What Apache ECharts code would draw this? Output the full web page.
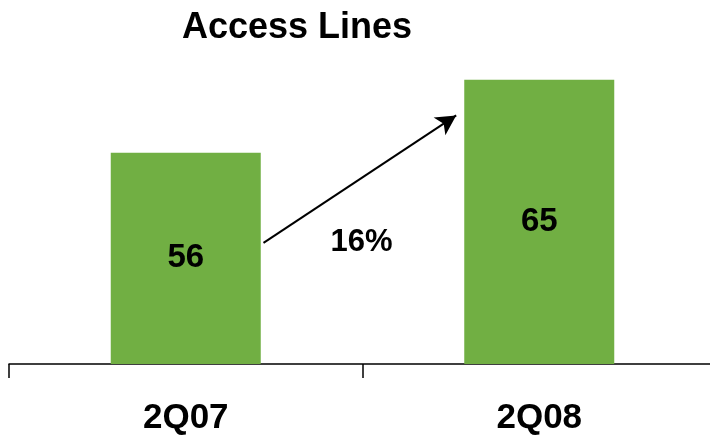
<!DOCTYPE html>
<html>
<head>
<meta charset="utf-8">
<title>Access Lines</title>
<script src="https://cdn.jsdelivr.net/npm/echarts@6/dist/echarts.min.js"></script>
<style>
  html, body { margin: 0; padding: 0; background: #ffffff; overflow: hidden; }
  /* the plot runs a few pixels past the right edge so the closing tick sits off-page */
  #chart { width: 716px; height: 436px; }
</style>
</head>
<body>
<div id="chart"></div>
<script>
// Quarters and access line counts
const categories = ['2Q07', '2Q08'];
const accessLines = [56, 65];

// Growth arrow endpoints, in [category position, value] units
const arrowFrom = [0.22, 44.9];
const arrowTo = [0.765, 60.6];
// Growth label placement and text
const growthLabelAt = [0.497, 44.95];
const growthText = Math.round((accessLines[1] / accessLines[0] - 1) * 100) + '%';

const FONT = '"Liberation Sans", Arial, Helvetica, sans-serif';
const GREEN = '#71AF43';

const chart = echarts.init(document.getElementById('chart'), null, { renderer: 'canvas' });

chart.setOption({
  animation: false,
  backgroundColor: '#ffffff',
  title: {
    text: 'Access Lines',
    left: 292,
    top: 5,
    textAlign: 'center',
    textStyle: { fontFamily: FONT, fontSize: 36, fontWeight: 'bold', color: '#000000' }
  },
  grid: { left: 9, right: 0, top: 39, bottom: 72, containLabel: false },
  xAxis: [
    {
      type: 'category',
      data: categories,
      axisLine: { show: true, lineStyle: { color: '#000000', width: 1.5 } },
      axisTick: { show: true, length: 14, interval: 0, lineStyle: { color: '#000000', width: 1.5 } },
      axisLabel: { margin: 37, fontFamily: FONT, fontSize: 35, fontWeight: 'bold', color: '#000000', interval: 0 }
    },
    {
      type: 'value',
      min: -0.5,
      max: 1.5,
      show: false
    }
  ],
  yAxis: {
    type: 'value',
    min: 30,
    max: 70,
    show: false,
    splitLine: { show: false }
  },
  series: [
    {
      type: 'bar',
      data: accessLines,
      barWidth: 150,
      itemStyle: { color: GREEN },
      label: {
        show: true,
        position: 'inside',
        fontFamily: FONT,
        fontSize: 33,
        fontWeight: 'bold',
        color: '#000000'
      }
    },
    {
      type: 'scatter',
      xAxisIndex: 1,
      data: [growthLabelAt],
      symbolSize: 0,
      silent: true,
      itemStyle: { opacity: 1 },
      label: {
        show: true,
        position: 'inside',
        formatter: growthText,
        fontFamily: FONT,
        fontSize: 31,
        fontWeight: 'bold',
        color: '#000000'
      },
      markLine: {
        silent: true,
        symbol: ['none', 'arrow'],
        symbolSize: [16, 20],
        label: { show: false },
        lineStyle: { color: '#000000', width: 2, type: 'solid', opacity: 1 },
        data: [[{ coord: arrowFrom }, { coord: arrowTo }]]
      }
    }
  ]
});
</script>
</body>
</html>
